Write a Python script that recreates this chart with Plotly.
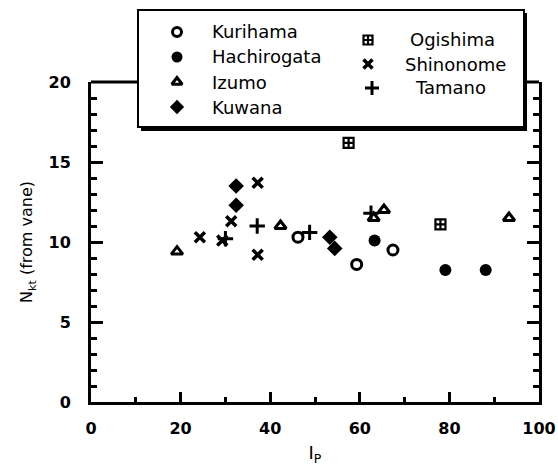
import plotly.graph_objects as go

# Measured turbulence index N_kt (from vane) against plasticity index I_P
kurihama_x = [46.2, 59.3, 67.4]
kurihama_y = [10.3, 8.6, 9.5]
hachirogata_x = [63.3, 79.1, 88.1]
hachirogata_y = [10.1, 8.25, 8.25]
izumo_x = [19.2, 42.3, 63.1, 65.4, 93.3]
izumo_y = [9.4, 11.0, 11.5, 12.0, 11.5]
kuwana_x = [32.4, 32.4, 53.3, 54.4]
kuwana_y = [13.5, 12.3, 10.3, 9.6]
ogishima_x = [57.5, 78.0]
ogishima_y = [16.2, 11.1]
shinonome_x = [24.3, 29.3, 31.3, 37.2, 37.2]
shinonome_y = [10.3, 10.1, 11.3, 13.7, 9.2]
tamano_x = [30.0, 37.1, 48.8, 62.5]
tamano_y = [10.2, 11.0, 10.6, 11.8]

x_ticks = [0, 20, 40, 60, 80, 100]
y_ticks = [0, 5, 10, 15, 20]

W, H = 558, 474
# plot frame in pixels
FL, FR, FT, FB = 91, 539, 82, 402
X_MIN, X_MAX, Y_MIN, Y_MAX = 0, 100, 0, 20


def paper_x(px):
    return px / W


def paper_y(py):
    return 1 - py / H


series = [
    ("Kurihama", kurihama_x, kurihama_y,
     dict(symbol="circle-open", size=10, color="black", line=dict(width=3, color="black"))),
    ("Hachirogata", hachirogata_x, hachirogata_y,
     dict(symbol="circle", size=12, color="black")),
    ("Izumo", izumo_x, izumo_y,
     dict(symbol="triangle-up-open", size=10, color="black", line=dict(width=3, color="black"))),
    ("Kuwana", kuwana_x, kuwana_y,
     dict(symbol="diamond", size=12, color="black")),
    ("Ogishima", ogishima_x, ogishima_y,
     dict(symbol="square-cross-open", size=10, color="black", line=dict(width=2.2, color="black"))),
    ("Shinonome", shinonome_x, shinonome_y,
     dict(symbol="x-thin-open", size=10, color="black", line=dict(width=3.5, color="black"))),
    ("Tamano", tamano_x, tamano_y,
     dict(symbol="cross-thin-open", size=11, color="black", line=dict(width=3, color="black"))),
]

fig = go.Figure()
for name, xs, ys, mk in series:
    fig.add_trace(go.Scatter(x=xs, y=ys, mode="markers", name=name,
                             marker=mk, showlegend=False, cliponaxis=False,
                             xaxis="x", yaxis="y"))

# Key box: symbol x, label x, row y (pixels); symbols live on a full-page overlay axis pair
key_rows = [
    ("Kurihama", 177, 210, 32),
    ("Hachirogata", 177, 210, 57),
    ("Izumo", 177, 210, 82),
    ("Kuwana", 177, 210, 107),
    ("Ogishima", 368, 408, 40),
    ("Shinonome", 368, 403, 64),
    ("Tamano", 372, 413, 88),
]
style = {name: mk for name, _, _, mk in series}
annotations = []
for name, sx, tx, ty in key_rows:
    mk = dict(style[name])
    mk["size"] = mk["size"] - 1
    fig.add_trace(go.Scatter(x=[sx], y=[ty], mode="markers", marker=mk,
                             showlegend=False, hoverinfo="skip",
                             xaxis="x2", yaxis="y2"))
    annotations.append(dict(x=paper_x(tx), y=paper_y(ty), xref="paper", yref="paper",
                            text=name, showarrow=False, xanchor="left", yanchor="middle",
                            font=dict(family="DejaVu Sans", size=18, color="black")))

shapes = [
    # top edge of the frame
    dict(type="line", xref="paper", yref="paper",
         x0=paper_x(FL), x1=paper_x(FR), y0=paper_y(FT), y1=paper_y(FT),
         line=dict(color="black", width=3), layer="below"),
    # key box shadow and box
    dict(type="rect", xref="paper", yref="paper",
         x0=paper_x(141), x1=paper_x(527), y0=paper_y(131), y1=paper_y(13),
         fillcolor="black", line=dict(width=0), layer="below"),
    dict(type="rect", xref="paper", yref="paper",
         x0=paper_x(138), x1=paper_x(524), y0=paper_y(127), y1=paper_y(10),
         fillcolor="white", line=dict(color="black", width=2), layer="below"),
]

tick_font = dict(family="DejaVu Sans", size=16, color="black", weight="bold")

fig.update_layout(
    width=W, height=H,
    margin=dict(l=0, r=0, t=0, b=0, pad=0),
    paper_bgcolor="white", plot_bgcolor="rgba(0,0,0,0)",
    showlegend=False,
    shapes=shapes,
    annotations=annotations,
    xaxis=dict(
        domain=[paper_x(FL), paper_x(FR)], anchor="y", automargin=False,
        range=[X_MIN, X_MAX], tickvals=x_ticks, ticktext=[str(v) for v in x_ticks],
        showgrid=False, zeroline=False, showline=True, linecolor="black", linewidth=3,
        ticks="inside", ticklen=10, tickwidth=3, tickcolor="black",
        minor=dict(dtick=10, tick0=0, ticks="inside", ticklen=5, tickwidth=3, tickcolor="black"),
        tickfont=tick_font, ticklabelstandoff=10,
        title=dict(text="I<sub>P</sub>", standoff=10,
                   font=dict(family="DejaVu Sans", size=18, color="black")),
    ),
    yaxis=dict(
        domain=[paper_y(FB), paper_y(FT)], anchor="x", automargin=False,
        range=[Y_MIN, Y_MAX], tickvals=y_ticks, ticktext=[str(v) for v in y_ticks],
        showgrid=False, zeroline=False, showline=True, linecolor="black", linewidth=3,
        mirror="ticks",
        ticks="inside", ticklen=12, tickwidth=3, tickcolor="black",
        minor=dict(dtick=1, tick0=0, ticks="inside", ticklen=6, tickwidth=3, tickcolor="black"),
        tickfont=tick_font, ticklabelstandoff=14,
        title=dict(text="N<sub>kt</sub> (from vane)", standoff=12,
                   font=dict(family="DejaVu Sans", size=16, color="black")),
    ),
    xaxis2=dict(domain=[0, 1], anchor="y2", range=[0, W], visible=False,
                fixedrange=True),
    yaxis2=dict(domain=[0, 1], anchor="x2", range=[H, 0], visible=False,
                fixedrange=True),
)

fig.write_html("out.html")
